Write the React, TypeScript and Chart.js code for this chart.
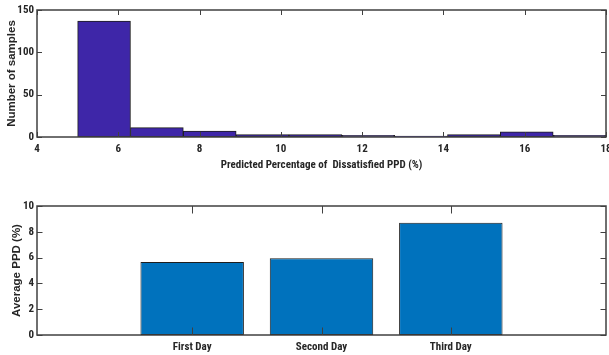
import React, { useEffect, useRef } from "react";
import { Chart, registerables } from "chart.js";

Chart.register(...registerables);

// ---- Data: histogram of PPD ----
const binEdges = [5, 6.3, 7.6, 8.9, 10.2, 11.5, 12.8, 14.1, 15.4, 16.7, 18];
const binCounts = [137, 11, 7, 3, 3, 2, 1, 3, 6, 2];
const histXTicks = [4, 6, 8, 10, 12, 14, 16, 18];
const histYTicks = [0, 50, 100, 150];

// ---- Data: average PPD per day ----
const dayLabels = ["First Day", "Second Day", "Third Day"];
const dayPositions = [1, 2, 3];
const dayAvgPPD = [5.65, 5.95, 8.7];
const dayYTicks = [0, 2, 4, 6, 8, 10];

const NARROW = "'Roboto Condensed', 'Open Sans Condensed', 'DejaVu Sans Condensed', sans-serif";
const WIDE = "'Liberation Sans', Arial, sans-serif";
const TEXT = "#262626";
const AXIS = "#404040";

function framePlugin(xTickLen: number, yTickLen: number) {
  return {
    id: "frame",
    afterDatasetsDraw(chart: any) {
      const { ctx, chartArea } = chart;
      const { left, right, top, bottom } = chartArea;
      const x = chart.scales.x;
      const y = chart.scales.y;
      ctx.save();
      ctx.strokeStyle = AXIS;
      ctx.lineWidth = 1;
      ctx.beginPath();
      x.ticks.forEach((t: any) => {
        const px = Math.round(x.getPixelForValue(t.value)) + 0.5;
        ctx.moveTo(px, bottom);
        ctx.lineTo(px, bottom - xTickLen);
        ctx.moveTo(px, top);
        ctx.lineTo(px, top + xTickLen);
      });
      y.ticks.forEach((t: any) => {
        const py = Math.round(y.getPixelForValue(t.value)) + 0.5;
        ctx.moveTo(left, py);
        ctx.lineTo(left + yTickLen, py);
        ctx.moveTo(right, py);
        ctx.lineTo(right - yTickLen, py);
      });
      ctx.stroke();
      ctx.lineWidth = 1.5;
      ctx.strokeRect(left, top, right - left, bottom - top);
      ctx.restore();
    },
  };
}

function fixTicks(values: number[]) {
  return (scale: any) => {
    scale.ticks = values.map((v) => ({ value: v }));
  };
}

export default function App() {
  const topRef = useRef<HTMLCanvasElement>(null);
  const botRef = useRef<HTMLCanvasElement>(null);

  useEffect(() => {
    const centers = binCounts.map((_, i) => (binEdges[i] + binEdges[i + 1]) / 2);
    const histChart = new Chart(topRef.current!, {
      type: "bar",
      data: {
        datasets: [
          {
            data: centers.map((c, i) => ({ x: c, y: binCounts[i] })),
            backgroundColor: "#3e26a8",
            borderColor: "#1e1e1e",
            borderWidth: 1,
            borderSkipped: false,
            barPercentage: 1,
            categoryPercentage: 1,
          },
        ],
      },
      options: {
        animation: false,
        responsive: false,
        devicePixelRatio: 1,
        layout: { padding: { top: 10, right: 3, left: 0, bottom: 0 } },
        plugins: { legend: { display: false }, tooltip: { enabled: false } },
        scales: {
          x: {
            type: "linear",
            offset: false,
            min: 4,
            max: 18,
            afterBuildTicks: fixTicks(histXTicks),
            afterFit: (s: any) => {
              s.height = 43;
              s.paddingLeft = 0;
              s.paddingRight = 0;
            },
            grid: { display: false, drawTicks: false },
            border: { display: false },
            ticks: {
              padding: 6,
              maxRotation: 0,
              autoSkip: false,
              color: TEXT,
              font: { family: NARROW, size: 11, weight: "bold" },
            },
            title: {
              display: true,
              text: "Predicted Percentage of  Dissatisfied PPD (%)",
              color: TEXT,
              font: { family: NARROW, size: 11, weight: "bold" },
              padding: { top: 0, bottom: 8.4 },
            },
          },
          y: {
            type: "linear",
            min: 0,
            max: 150,
            afterBuildTicks: fixTicks(histYTicks),
            afterFit: (s: any) => {
              s.width = 37;
            },
            grid: { display: false, drawTicks: false },
            border: { display: false },
            ticks: {
              padding: 3,
              color: TEXT,
              font: { family: NARROW, size: 11, weight: "bold" },
            },
            title: {
              display: true,
              text: "Number of samples",
              color: TEXT,
              font: { family: WIDE, size: 11.5, weight: "bold" },
              padding: { top: 4.6, bottom: 0 },
            },
          },
        },
      },
      plugins: [framePlugin(5, 5)],
    } as any);

    const dayChart = new Chart(botRef.current!, {
      type: "bar",
      data: {
        datasets: [
          {
            data: dayPositions.map((p, i) => ({ x: p, y: dayAvgPPD[i] })),
            backgroundColor: "#0072bd",
            borderColor: "#1e1e1e",
            borderWidth: 1,
            borderSkipped: false,
            barPercentage: 0.8,
            categoryPercentage: 1,
          },
        ],
      },
      options: {
        animation: false,
        responsive: false,
        devicePixelRatio: 1,
        layout: { padding: { top: 26, right: 3, left: 0, bottom: 0 } },
        plugins: { legend: { display: false }, tooltip: { enabled: false } },
        scales: {
          x: {
            type: "linear",
            offset: false,
            min: -0.2,
            max: 4.2,
            afterBuildTicks: fixTicks(dayPositions),
            afterFit: (s: any) => {
              s.height = 20;
              s.paddingLeft = 0;
              s.paddingRight = 0;
            },
            grid: { display: false, drawTicks: false },
            border: { display: false },
            ticks: {
              padding: 6,
              maxRotation: 0,
              autoSkip: false,
              color: TEXT,
              font: { family: NARROW, size: 11, weight: "bold" },
              callback: (v: any) => {
                const i = dayPositions.indexOf(Number(v));
                return i >= 0 ? dayLabels[i] : "";
              },
            },
          },
          y: {
            type: "linear",
            min: 0,
            max: 10,
            afterBuildTicks: fixTicks(dayYTicks),
            afterFit: (s: any) => {
              s.width = 37;
            },
            grid: { display: false, drawTicks: false },
            border: { display: false },
            ticks: {
              padding: 3,
              color: TEXT,
              font: { family: NARROW, size: 11, weight: "bold" },
            },
            title: {
              display: true,
              text: "Average PPD (%)",
              color: TEXT,
              font: { family: WIDE, size: 11.5, weight: "bold" },
              padding: { top: 9.6, bottom: 0 },
            },
          },
        },
      },
      plugins: [framePlugin(7.5, 5.5)],
    } as any);

    return () => {
      histChart.destroy();
      dayChart.destroy();
    };
  }, []);

  return (
    <div style={{ position: "absolute", left: 0, top: 0, width: 609, height: 355, background: "#ffffff" }}>
      <canvas ref={topRef} width={609} height={180} style={{ display: "block", width: 609, height: 180 }} />
      <canvas ref={botRef} width={609} height={175} style={{ display: "block", width: 609, height: 175 }} />
    </div>
  );
}
